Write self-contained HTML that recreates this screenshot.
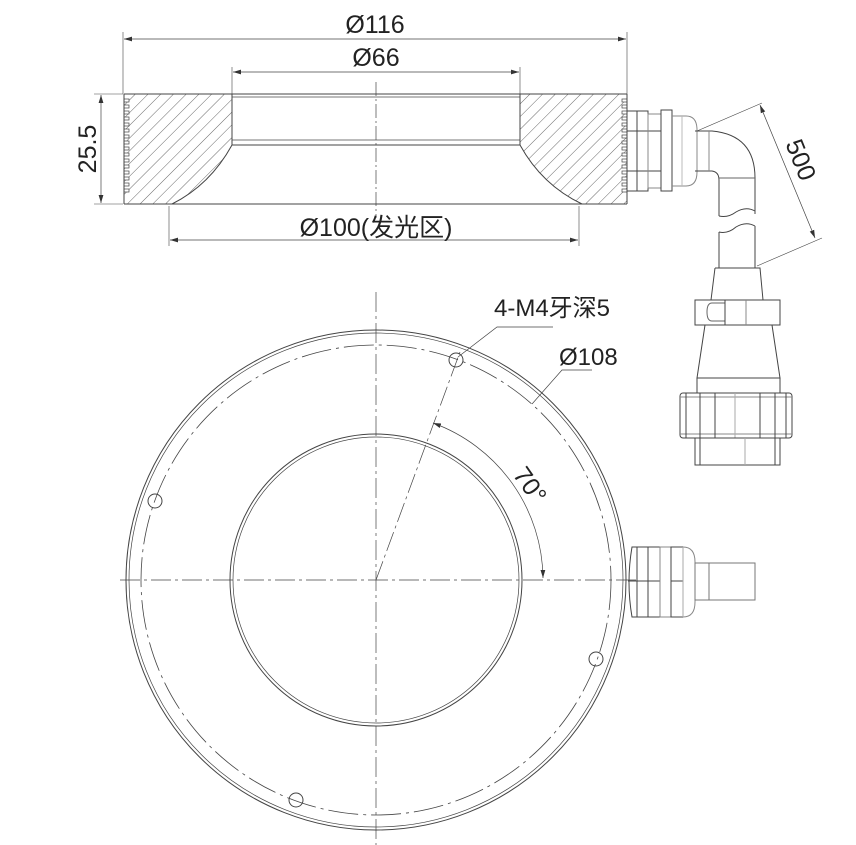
<!DOCTYPE html>
<html><head><meta charset="utf-8"><style>
html,body{margin:0;padding:0;background:#fff}
svg{display:block}
text{font-family:"Liberation Sans","Noto Sans CJK SC",sans-serif;fill:#222}
</style></head><body>
<svg width="856" height="845" viewBox="0 0 856 845" xmlns="http://www.w3.org/2000/svg">
<defs>
<pattern id="h" width="9" height="9" patternUnits="userSpaceOnUse" patternTransform="rotate(45)">
<line x1="0" y1="0" x2="0" y2="9" stroke="#444" stroke-width="0.8"/>
</pattern>
<marker id="a" viewBox="0 0 10 10" refX="10" refY="5" markerWidth="8" markerHeight="8" orient="auto-start-reverse" markerUnits="userSpaceOnUse"><path d="M0,2 L10,5 L0,8 z" fill="#333"/></marker>
</defs>
<g fill="none" stroke="#444" stroke-width="1">
<!-- TOP SECTION -->
<path d="M124,94 H232 V145 Q210,185 172,204 H124 Z" fill="url(#h)" stroke="none"/>
<path d="M520,94 H627 V204 H582 Q542,185 520,145 Z" fill="url(#h)" stroke="none"/>
<line x1="124" y1="94" x2="627" y2="94"/>
<line x1="124" y1="204" x2="627" y2="204"/>
<line x1="232" y1="97" x2="520" y2="97" stroke="#777"/>
<line x1="232" y1="140" x2="520" y2="140" stroke="#777"/>
<line x1="232" y1="145" x2="520" y2="145"/>
<line x1="232" y1="94" x2="232" y2="145"/>
<line x1="520" y1="94" x2="520" y2="145"/>
<path d="M232,145 Q210,185 172,204"/>
<path d="M520,145 Q542,185 582,204"/>
<!-- teeth -->
<g fill="#fff" stroke-width="0.7">
<rect x="124" y="99" width="5" height="3"/><rect x="124" y="105" width="5" height="3"/><rect x="124" y="111" width="5" height="3"/><rect x="124" y="117" width="5" height="3"/><rect x="124" y="123" width="5" height="3"/><rect x="124" y="129" width="5" height="3"/><rect x="124" y="135" width="5" height="3"/><rect x="124" y="141" width="5" height="3"/><rect x="124" y="147" width="5" height="3"/><rect x="124" y="153" width="5" height="3"/><rect x="124" y="159" width="5" height="3"/><rect x="124" y="165" width="5" height="3"/><rect x="124" y="171" width="5" height="3"/><rect x="124" y="177" width="5" height="3"/><rect x="124" y="183" width="5" height="3"/><rect x="124" y="189" width="5" height="3"/>
<rect x="622" y="99" width="5" height="3"/><rect x="622" y="105" width="5" height="3"/><rect x="622" y="111" width="5" height="3"/><rect x="622" y="117" width="5" height="3"/><rect x="622" y="123" width="5" height="3"/><rect x="622" y="129" width="5" height="3"/><rect x="622" y="135" width="5" height="3"/><rect x="622" y="141" width="5" height="3"/><rect x="622" y="147" width="5" height="3"/><rect x="622" y="153" width="5" height="3"/><rect x="622" y="159" width="5" height="3"/><rect x="622" y="165" width="5" height="3"/><rect x="622" y="171" width="5" height="3"/><rect x="622" y="177" width="5" height="3"/><rect x="622" y="183" width="5" height="3"/><rect x="622" y="189" width="5" height="3"/>
</g>
<line x1="124" y1="94" x2="124" y2="204"/>
<line x1="627" y1="94" x2="627" y2="204"/>
<line x1="376" y1="82" x2="376" y2="218" stroke-dasharray="14,3,2,3" stroke-width="0.7"/>
<!-- dims top -->
<line x1="123" y1="32" x2="123" y2="94" stroke-width="0.6"/>
<line x1="627" y1="32" x2="627" y2="94" stroke-width="0.6"/>
<line x1="124" y1="39" x2="626" y2="39" stroke-width="0.7" marker-start="url(#a)" marker-end="url(#a)"/>
<line x1="232" y1="67" x2="232" y2="94" stroke-width="0.6"/>
<line x1="520" y1="67" x2="520" y2="94" stroke-width="0.6"/>
<line x1="233" y1="72" x2="519" y2="72" stroke-width="0.7" marker-start="url(#a)" marker-end="url(#a)"/>
<line x1="169" y1="206" x2="169" y2="246" stroke-width="0.6"/>
<line x1="579" y1="206" x2="579" y2="246" stroke-width="0.6"/>
<line x1="170" y1="240" x2="578" y2="240" stroke-width="0.7" marker-start="url(#a)" marker-end="url(#a)"/>
<line x1="94" y1="94" x2="123" y2="94" stroke-width="0.6"/>
<line x1="94" y1="204" x2="123" y2="204" stroke-width="0.6"/>
<line x1="101" y1="95" x2="101" y2="203" stroke-width="0.7" marker-start="url(#a)" marker-end="url(#a)"/>
<!-- top connector -->
<rect x="627" y="111" width="21" height="80"/>
<line x1="627" y1="131" x2="661" y2="131"/><line x1="627" y1="171" x2="661" y2="171"/>
<line x1="637" y1="111" x2="637" y2="191"/>
<rect x="648" y="114" width="13" height="74" stroke="#888"/>
<rect x="661" y="110" width="11" height="81"/>
<path d="M672,116 H686 Q697,116 697,130 V172 Q697,186 686,186 H672" stroke="#888"/>
<line x1="682" y1="116" x2="682" y2="186" stroke="#bbb"/>
<path d="M695,131 H712 Q755,135 755,178 V214"/>
<path d="M695,171 H712 Q719,172 719,180 V216"/>
<line x1="709" y1="131" x2="709" y2="171" stroke="#888"/>
<line x1="719" y1="178" x2="755" y2="178" stroke="#666"/>
<path d="M719,216 Q728,218 736,212 Q746,206 755,211"/>
<path d="M719,232 Q728,234 736,227 Q746,221 755,226"/>
<line x1="719" y1="232" x2="719" y2="268"/><line x1="755" y1="226" x2="755" y2="268"/>
<path d="M715,268 H760 L763,300 M715,268 L711,300"/>
<rect x="695" y="300" width="85" height="25"/>
<path d="M725,303 H712 Q707,303 707,312 Q707,321 712,321 H725" stroke="#666"/>
<line x1="725" y1="300" x2="725" y2="325"/><line x1="746" y1="300" x2="746" y2="325" stroke="#888"/>
<path d="M705,325 L697,378 H780 L772,325"/>
<line x1="697" y1="378" x2="697" y2="393"/><line x1="780" y1="378" x2="780" y2="393"/>
<rect x="680" y="393" width="112" height="45" rx="3"/>
<line x1="680" y1="397" x2="792" y2="397" stroke="#888"/><line x1="680" y1="434" x2="792" y2="434" stroke="#888"/>
<line x1="686" y1="393" x2="686" y2="438"/><line x1="700" y1="393" x2="700" y2="438"/><line x1="715" y1="393" x2="715" y2="438"/>
<line x1="735" y1="393" x2="735" y2="438" stroke="#aaa"/>
<line x1="760" y1="393" x2="760" y2="438"/><line x1="775" y1="393" x2="775" y2="438"/><line x1="786" y1="393" x2="786" y2="438"/>
<rect x="695" y="438" width="85" height="27"/>
<line x1="700" y1="438" x2="700" y2="465"/><line x1="745" y1="438" x2="745" y2="465" stroke="#aaa"/><line x1="775" y1="438" x2="775" y2="465"/>
<!-- 500 dim -->
<line x1="697" y1="131" x2="762" y2="103" stroke-width="0.6"/>
<line x1="757" y1="266" x2="822" y2="238" stroke-width="0.6"/>
<line x1="760" y1="105" x2="815" y2="238" stroke-width="0.7" marker-start="url(#a)" marker-end="url(#a)"/>

<!-- BOTTOM VIEW -->
<circle cx="376" cy="580" r="250"/>
<circle cx="376" cy="580" r="247" stroke-width="0.7"/>
<circle cx="376" cy="580" r="235" stroke-dasharray="30,5,3,5" stroke-width="0.8"/>
<circle cx="376" cy="580" r="146"/>
<circle cx="376" cy="580" r="143" stroke-width="0.7"/>
<line x1="376" y1="292" x2="376" y2="845" stroke-dasharray="20,4,3,4" stroke-width="0.7"/>
<line x1="120" y1="580" x2="640" y2="580" stroke-dasharray="20,4,3,4" stroke-width="0.7"/>
<line x1="376" y1="580" x2="460" y2="352" stroke-dasharray="20,4,3,4" stroke-width="0.7"/>
<circle cx="456" cy="360" r="7"/>
<circle cx="155" cy="501" r="7"/>
<circle cx="596" cy="659" r="7"/>
<circle cx="296" cy="800" r="7"/>
<path d="M433,423 A167,167 0 0 1 543,578" stroke-width="0.7" marker-start="url(#a)" marker-end="url(#a)"/>
<polyline points="458,357 497,327 553,327" stroke-width="0.7"/>
<polyline points="532,404 562,370 592,370" stroke-width="0.7"/>
<!-- right connector -->
<path d="M632,547 H648 V617 H632 Q626,582 632,547 Z"/>
<line x1="637" y1="547" x2="637" y2="617"/>
<line x1="628" y1="581" x2="648" y2="581"/>
<rect x="648" y="547" width="12" height="70"/>
<line x1="648" y1="581" x2="660" y2="581"/>
<rect x="660" y="547" width="11" height="70" stroke="#888"/>
<rect x="671" y="547" width="12" height="70"/>
<line x1="671" y1="581" x2="683" y2="581"/>
<path d="M683,547 H683 Q695,547 695,562 V602 Q695,617 683,617" stroke="#888"/>
<line x1="683" y1="547" x2="683" y2="617" stroke="#aaa"/>
<rect x="695" y="563" width="60" height="37" stroke="#777"/>
<line x1="709" y1="563" x2="709" y2="600" stroke="#777"/>
</g>
<text x="375" y="33" font-size="25" text-anchor="middle">Ø116</text>
<text x="376" y="66" font-size="25" text-anchor="middle">Ø66</text>
<text x="376" y="236" font-size="25" text-anchor="middle">Ø100(发光区)</text>
<text transform="translate(96,149) rotate(-90)" font-size="25" text-anchor="middle">25.5</text>
<text transform="translate(793,163) rotate(68)" font-size="25" text-anchor="middle">500</text>
<text x="494" y="316" font-size="24">4-M4牙深5</text>
<text x="559" y="365" font-size="24">Ø108</text>
<text transform="translate(523,490) rotate(55)" font-size="25" text-anchor="middle">70°</text>
</svg>
</body></html>
